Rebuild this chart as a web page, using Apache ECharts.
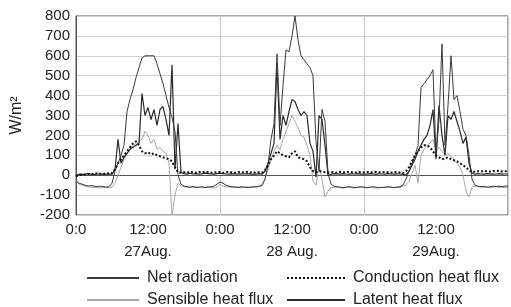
<!DOCTYPE html>
<html><head><meta charset="utf-8">
<script src="https://cdn.jsdelivr.net/npm/echarts@6/dist/echarts.min.js"></script>
<style>html,body{margin:0;padding:0;background:#fff}#c{width:511px;height:307px}</style>
</head><body><div id="c"></div>
<script>
// time axis: hours from 27 Aug 0:00, every half hour
var hours = [];
for (var i = 0; i <= 144; i++) hours.push(i / 2);

var netRadiation = [
 -30,-40,-45,-50,-55,-52,-55,-58,-55,-57,-60,-58,
 -40,20,60,100,150,320,380,430,490,540,590,600,
 600,600,600,560,510,460,400,340,290,220,0,-45,
 -55,-58,-60,-57,-62,-60,-58,-63,-60,-58,-55,-45,
 -35,-40,-50,-55,-58,-60,-62,-58,-60,-63,-60,-58,
 -58,-55,-50,-20,50,180,260,610,250,450,630,620,
 700,800,680,600,580,560,540,500,170,20,330,270,
 10,-45,-55,-58,-60,-62,-60,-58,-60,-62,-60,-58,
 -60,-62,-60,-58,-60,-63,-62,-60,-58,-60,-62,-60,
 -58,-50,-20,20,60,100,150,440,460,480,500,530,
 100,280,660,150,350,600,380,400,320,230,200,100,
 -20,-50,-55,-58,-55,-60,-58,-55,-57,-55,-58,-55,
 -55];
var latentHeat = [
 0,5,3,5,8,5,3,6,5,4,6,5,
 5,30,180,60,90,110,130,140,150,160,410,300,
 340,280,330,250,330,345,280,200,555,30,260,15,
 8,5,10,6,8,5,7,10,8,6,5,8,
 10,8,6,5,8,6,5,7,6,8,5,6,
 5,8,5,20,60,110,160,560,180,300,250,320,
 380,370,330,300,320,300,160,120,-10,300,280,150,
 0,5,8,6,5,8,6,5,7,6,8,5,
 6,5,8,6,5,7,6,5,8,6,5,7,
 6,5,0,20,50,80,120,150,180,200,250,330,
 80,350,200,100,300,280,320,270,220,160,190,60,
 10,5,8,6,5,8,7,5,6,8,5,6,
 6];
var sensibleHeat = [
 -30,-45,-50,-55,-58,-60,-62,-60,-65,-62,-60,-62,
 -60,-40,0,40,80,110,130,150,160,170,180,220,
 200,160,180,130,140,120,110,60,-200,-100,-40,-55,
 -58,-60,-62,-60,-58,-63,-60,-62,-58,-60,-65,-60,
 -45,-55,-58,-60,-62,-58,-60,-63,-60,-58,-62,-60,
 -60,-58,-55,-20,30,80,120,150,130,180,220,260,
 300,270,240,200,190,150,100,-30,-50,50,-20,-110,
 -80,-60,-62,-60,-63,-65,-62,-60,-63,-65,-62,-60,
 -62,-64,-60,-63,-65,-62,-60,-63,-62,-60,-63,-60,
 -62,-55,-50,-30,10,50,-40,100,130,150,160,180,
 120,140,120,100,110,90,80,60,40,0,-80,-110,
 -60,-55,-58,-60,-62,-60,-63,-60,-58,-62,-60,-63,
 -60];
var conduction = [
 -5,0,5,3,5,8,5,10,8,5,10,8,
 10,30,60,80,100,120,140,160,170,150,120,110,
 115,105,110,100,95,90,85,80,70,40,15,12,
 15,12,18,15,12,16,14,18,15,12,15,14,
 16,12,15,18,14,12,16,15,13,17,14,15,
 12,15,12,25,50,80,100,120,110,100,95,90,
 110,120,90,85,80,70,40,20,15,20,18,15,
 14,16,15,12,17,15,14,18,15,13,16,15,
 14,16,15,13,17,15,14,16,15,13,16,15,
 14,10,20,40,70,100,120,140,150,150,140,120,
 100,90,80,85,90,80,75,70,60,50,40,25,
 15,18,20,18,22,20,18,21,20,22,19,20,
 20];

var xTickValues = [0, 12, 24, 36, 48, 60];
var xTickLabels = ['0:0', '12:00\n27Aug.', '0:00', '12:00\n28 Aug.', '0:00', '12:00\n29Aug.'];

function pairs(vals) { return hours.map(function (h, i) { return [h, vals[i]]; }); }

var chart = echarts.init(document.getElementById('c'), null, {renderer: 'canvas'});
var font = 'Liberation Sans, Arial, sans-serif';
var legendCommon = {
  orient: 'vertical', top: 270, height: 60, itemHeight: 14, itemGap: 6, padding: 0,
  itemStyle: {opacity: 0},
  textStyle: {color: '#222', fontSize: 16, lineHeight: 16, fontFamily: font, padding: [0, 0, 0, 3]}
};
chart.setOption({
  animation: false,
  textStyle: {fontFamily: font},
  grid: {left: 76, right: 2, top: 16, bottom: 92, show: true, borderColor: '#555', borderWidth: 1, backgroundColor: 'transparent'},
  xAxis: [{
    type: 'value', min: 0, max: 72, interval: 12,
    axisLine: {show: true, lineStyle: {color: '#555'}},
    axisTick: {show: false},
    splitLine: {show: false},
    axisLabel: {
      color: '#222', fontSize: 15, lineHeight: 22, margin: 4, fontFamily: font,
      formatter: function (v) { var k = xTickValues.indexOf(v); return k >= 0 ? xTickLabels[k] : ''; }
    }
  }, {
    type: 'value', min: 0, max: 72, interval: 24, position: 'bottom',
    axisLine: {show: false}, axisTick: {show: false}, axisLabel: {show: false},
    splitLine: {show: true, lineStyle: {color: '#c8c8c8', width: 1}}
  }],
  yAxis: {
    type: 'value', min: -200, max: 800, interval: 100,
    name: 'W/m²', nameLocation: 'middle', nameGap: 51, nameRotate: 90,
    nameTextStyle: {color: '#222', fontSize: 16, fontFamily: font},
    axisLine: {show: true, lineStyle: {color: '#555'}},
    axisTick: {show: false},
    splitLine: {show: true, lineStyle: {color: '#cfcfcf', width: 1}},
    axisLabel: {color: '#222', fontSize: 15, margin: 6, fontFamily: font}
  },
  legend: [
    Object.assign({}, legendCommon, {left: 86, itemWidth: 52, data: ['Net radiation', 'Sensible heat flux']}),
    Object.assign({}, legendCommon, {left: 286, itemWidth: 58, data: ['Conduction heat flux', 'Latent heat flux']})
  ],
  series: [
    {name: 'Sensible heat flux', type: 'line', symbol: 'none', data: pairs(sensibleHeat),
     lineStyle: {color: '#a8a8a8', width: 1}, itemStyle: {color: '#a8a8a8'}},
    {name: 'Latent heat flux', type: 'line', symbol: 'none', data: pairs(latentHeat),
     lineStyle: {color: '#2a2a2a', width: 1.2}, itemStyle: {color: '#2a2a2a'}},
    {name: 'Net radiation', type: 'line', symbol: 'none', data: pairs(netRadiation),
     lineStyle: {color: '#3a3a3a', width: 1}, itemStyle: {color: '#3a3a3a'}},
    {name: 'Conduction heat flux', type: 'line', symbol: 'none', data: pairs(conduction),
     lineStyle: {color: '#111', width: 2, type: [2, 2]}, itemStyle: {color: '#111'}}
  ]
});
</script></body></html>
